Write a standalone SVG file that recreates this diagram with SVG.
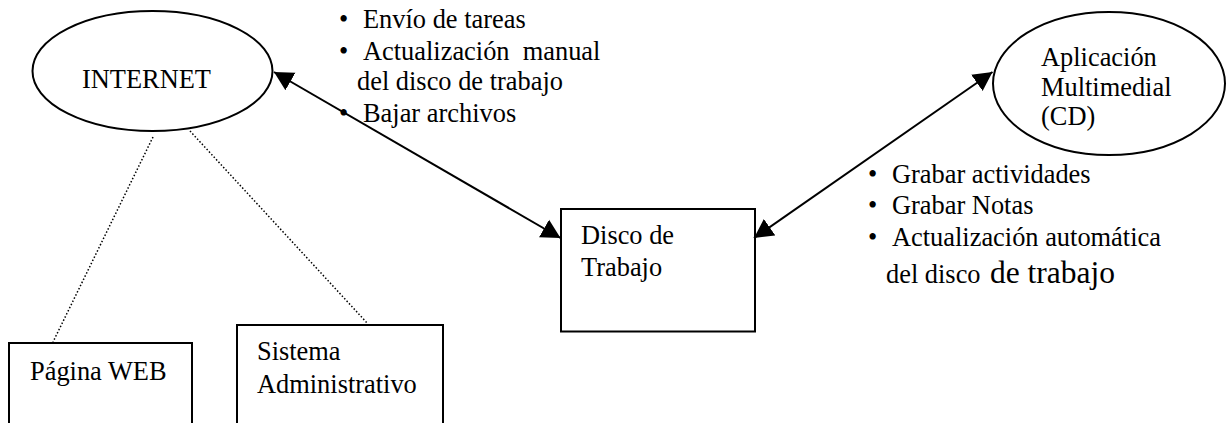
<svg xmlns="http://www.w3.org/2000/svg" width="1226" height="423" viewBox="0 0 1226 423">
<style>
text{font-family:"Liberation Serif","Times New Roman",serif;font-size:26.4px;fill:#000;white-space:pre}
.s{fill:#fff;stroke:#000;stroke-width:2}
.c{fill:none;stroke:#000;stroke-width:2}
.d{fill:none;stroke:#000;stroke-width:1.5;stroke-dasharray:1.5 2}
</style>
<defs><marker id="a" markerUnits="userSpaceOnUse" markerWidth="20" markerHeight="22" refX="19" refY="10" orient="auto-start-reverse" viewBox="0 0 20 20"><path d="M0 0L19 10L0 20Z" fill="#000"/></marker></defs>
<g id="internet"><ellipse class="s" cx="152.500" cy="71" rx="120" ry="60"/><text x="82" y="88">INTERNET</text></g>
<g id="aplicacion"><ellipse class="s" cx="1109" cy="83.500" rx="116" ry="71.500"/><text x="1041" y="66">Aplicación</text><text x="1041" y="96">Multimedial</text><text x="1041" y="125">(CD)</text></g>
<g id="disco"><rect class="s" x="561" y="209" width="194" height="122.500"/><text x="581" y="244">Disco de</text><text x="581" y="276">Trabajo</text></g>
<g id="pagina"><path class="s" d="M9 423V343H192V423"/><text x="30" y="380">Página WEB</text></g>
<g id="sistema"><path class="s" d="M237 423V325H443V423"/><text x="257" y="360">Sistema</text><text x="257" y="393">Administrativo</text></g>
<g id="connectors">
<path class="c" d="M274 72L560.500 238" marker-start="url(#a)" marker-end="url(#a)"/>
<path class="c" d="M754 238L992.500 72" marker-start="url(#a)" marker-end="url(#a)"/>
<path class="d" d="M153 137L53 342"/>
<path class="d" d="M190 131L368 324"/>
</g>
<g id="lista1"><text x="339" y="28">•</text><text x="363" y="28">Envío de tareas</text><text x="339" y="60">•</text><text x="363" y="60">Actualización  manual</text><text x="357" y="90">del disco de trabajo</text><text x="339" y="122">•</text><text x="363" y="122">Bajar archivos</text></g>
<g id="lista2"><text x="868" y="183">•</text><text x="892" y="183">Grabar actividades</text><text x="868" y="214">•</text><text x="892" y="214">Grabar Notas</text><text x="868" y="246">•</text><text x="892" y="246">Actualización automática</text><text x="886" y="283">del disco</text><text x="990" y="283" style="font-size:31.500px">de trabajo</text></g>
</svg>
